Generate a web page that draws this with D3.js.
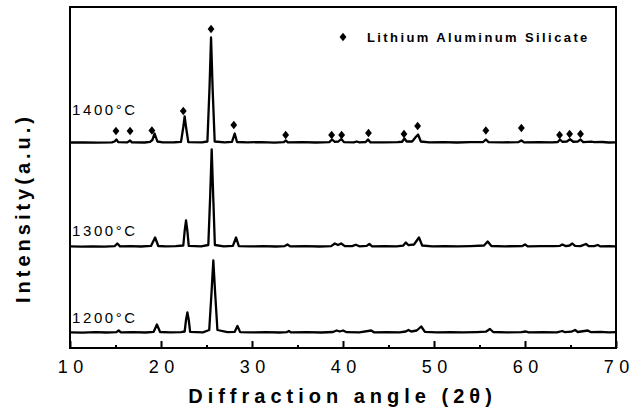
<!DOCTYPE html>
<html>
<head>
<meta charset="utf-8">
<script src="https://cdn.jsdelivr.net/npm/d3@7"></script>
<style>
  html, body { margin: 0; padding: 0; background: #fff; }
  svg { display: block; }
  text { font-family: "Liberation Sans", Arial, sans-serif; fill: #000; }
</style>
</head>
<body>
<svg id="chart" width="642" height="417"></svg>
<script>
// XRD patterns of the samples fired at three temperatures (intensity in counts)
const samples = ["1200\u00B0C", "1300\u00B0C", "1400\u00B0C"];
const offsets = [0, 1720, 3800];

const pattern1200 = [
  [10.0,312],[11.4,308],[12.8,316],[14.0,310],[15.1,316],[15.35,350],[15.6,312],[16.9,316],
  [18.3,310],[19.2,324],[19.55,470],[19.9,320],[21.0,314],[22.2,318],[22.6,330],[22.75,560],
  [22.9,710],[23.05,560],[23.2,324],[24.6,314],[25.3,360],[25.55,1100],[25.75,1750],[25.95,1100],
  [26.2,360],[27.3,316],[28.1,324],[28.4,440],[28.7,318],[30.0,312],[31.5,318],[33.0,310],
  [33.8,316],[34.05,340],[34.3,312],[36.0,316],[37.6,310],[38.9,320],[39.3,350],[39.65,330],
  [40.0,350],[40.4,316],[41.8,314],[43.1,350],[43.4,314],[44.8,316],[46.2,312],[46.9,330],
  [47.2,360],[47.5,330],[48.1,350],[48.6,430],[49.0,322],[50.3,314],[51.8,318],[53.2,312],
  [54.7,318],[55.7,326],[56.15,380],[56.5,320],[58.0,314],[59.6,316],[60.1,330],[60.4,312],
  [62.0,318],[63.5,314],[64.1,340],[64.4,316],[65.1,326],[65.5,360],[65.8,320],[66.9,350],
  [67.2,318],[68.3,322],[69.2,314],[70.0,316]
];

const pattern1300 = [
  [10.0,312],[11.2,306],[12.5,314],[13.8,308],[14.9,316],[15.2,370],[15.5,312],[16.6,318],
  [17.8,310],[18.9,322],[19.35,490],[19.7,320],[20.5,312],[21.6,316],[22.45,330],[22.6,620],
  [22.75,830],[22.9,620],[23.05,322],[24.4,312],[25.2,340],[25.4,1300],[25.57,2250],[25.74,1300],
  [25.92,340],[26.9,314],[27.9,322],[28.25,490],[28.55,318],[29.8,312],[31.2,316],[32.6,310],
  [33.6,318],[33.9,350],[34.2,312],[35.8,316],[37.4,310],[38.7,318],[39.1,370],[39.45,340],
  [39.8,370],[40.2,316],[41.0,318],[41.4,345],[41.8,314],[42.6,322],[42.9,360],[43.2,314],
  [44.6,316],[45.9,312],[46.6,326],[46.9,390],[47.2,336],[47.8,350],[48.35,490],[48.7,330],
  [49.8,314],[51.2,318],[52.6,312],[54.0,318],[55.5,330],[55.9,410],[56.3,320],[57.8,314],
  [59.7,318],[60.0,350],[60.3,312],[61.8,318],[63.2,316],[63.8,322],[64.1,350],[64.5,318],
  [64.9,330],[65.2,370],[65.5,322],[66.1,318],[66.7,360],[67.0,318],[67.6,316],[68.0,340],
  [68.3,312],[69.2,318],[70.0,314]
];

const pattern1400 = [
  [10.0,310],[11.5,314],[13.0,306],[14.6,312],[14.9,330],[15.1,370],[15.3,318],[16.3,312],
  [16.6,350],[16.8,312],[18.2,310],[18.8,322],[19.05,360],[19.3,490],[19.6,330],[20.2,312],
  [21.5,315],[22.2,322],[22.45,620],[22.6,830],[22.75,620],[23.0,318],[24.5,312],[25.1,330],
  [25.33,1400],[25.5,2410],[25.67,1400],[25.9,330],[27.0,314],[27.8,322],[28.1,490],[28.35,320],
  [29.5,312],[31.0,318],[32.5,308],[33.5,318],[33.7,350],[33.95,312],[35.5,316],[37.0,310],
  [38.5,318],[38.8,370],[39.1,322],[39.5,330],[39.8,380],[40.1,318],[41.2,312],[41.5,330],
  [41.8,312],[42.5,320],[42.75,370],[43.0,314],[44.5,312],[46.0,316],[46.5,325],[46.75,390],
  [47.0,330],[47.6,330],[48.0,420],[48.25,470],[48.55,330],[49.5,312],[51.0,318],[52.5,310],
  [54.0,316],[55.4,320],[55.7,370],[56.0,318],[57.5,312],[59.3,318],[59.6,350],[59.9,312],
  [61.5,316],[63.0,312],[63.6,320],[63.85,370],[64.1,325],[64.6,330],[64.95,375],[65.3,325],
  [65.8,328],[66.1,370],[66.4,318],[67.3,326],[67.6,316],[68.5,320],[69.2,310],[70.0,314]
];

const patterns = [pattern1200, pattern1300, pattern1400];

// Lithium aluminum silicate reflections marked on the 1400 °C pattern
const phaseAngles = [15.05, 16.6, 19.0, 22.45, 25.5, 28.0, 33.7, 38.75, 39.85, 42.8, 46.7, 48.2, 55.7, 59.6, 63.8, 64.9, 66.1];
const phaseLevels = [540, 540, 550, 940, 2580, 660, 460, 460, 460, 500, 480, 640, 550, 600, 460, 480, 480];

const majorTicks = [10, 20, 30, 40, 50, 60, 70];
const minorTicks = [15, 25, 35, 45, 55, 65];
const legendLabel = "Lithium Aluminum Silicate";
const xTitle = "Diffraction angle (2\u03B8)";
const yTitle = "Intensity(a.u.)";

const svg = d3.select("#chart");
const m = { left: 70, right: 616, top: 7, bottom: 348 };

const x = d3.scaleLinear().domain([10, 70]).range([m.left, m.right]);
const y = d3.scaleLinear().domain([0, 6820]).range([m.bottom, m.top]);

// patterns
const line = d3.line().x(d => x(d[0])).y(d => y(d[1]));
patterns.forEach((p, i) => {
  svg.append("path")
    .datum(p.map(d => [d[0], d[1] + offsets[i]]))
    .attr("d", line)
    .attr("fill", "none")
    .attr("stroke", "#000")
    .attr("stroke-width", 2.3)
    .attr("stroke-linejoin", "round");
});

// sample labels sit just above each pattern's background
const labelY = [323, 236, 115];
samples.forEach((s, i) => {
  svg.append("text")
    .attr("x", 72).attr("y", labelY[i])
    .attr("font-size", 15)
    .attr("letter-spacing", 2.6)
    .text(s);
});

// diamond marker
const diamond = {
  draw(ctx, size) {
    const h = Math.sqrt(size) * 0.62, w = h * 0.82;
    ctx.moveTo(0, -h); ctx.lineTo(w, 0); ctx.lineTo(0, h); ctx.lineTo(-w, 0); ctx.closePath();
  }
};
const sym = d3.symbol().type(diamond).size(45);

svg.append("g").selectAll("path")
  .data(phaseAngles.map((a, i) => [a, phaseLevels[i] + offsets[2]]))
  .join("path")
  .attr("transform", d => `translate(${x(d[0])},${y(d[1])})`)
  .attr("d", sym)
  .attr("fill", "#000");

// legend
svg.append("path").attr("transform", "translate(343,37)").attr("d", sym).attr("fill", "#000");
svg.append("text")
  .attr("x", 367).attr("y", 42)
  .attr("font-size", 13).attr("font-weight", "bold")
  .attr("letter-spacing", 2.4)
  .text(legendLabel);

// bottom axis: inward ticks
const axis = svg.append("g").attr("transform", `translate(0,${m.bottom})`)
  .call(d3.axisBottom(x).tickValues(majorTicks).tickSizeInner(-7).tickSizeOuter(0).tickPadding(12));
axis.select(".domain").remove();
axis.selectAll(".tick line").attr("stroke-width", 2);
axis.selectAll(".tick text")
  .attr("font-family", "Liberation Sans, Arial, sans-serif")
  .attr("font-size", 18)
  .attr("letter-spacing", 5.5)
  .attr("dx", 2.75)
  .attr("fill", "#000");

const minor = svg.append("g").attr("transform", `translate(0,${m.bottom})`)
  .call(d3.axisBottom(x).tickValues(minorTicks).tickSizeInner(-3).tickSizeOuter(0).tickFormat(""));
minor.select(".domain").remove();
minor.selectAll(".tick line").attr("stroke-width", 2);

// frame
svg.append("rect")
  .attr("x", m.left).attr("y", m.top)
  .attr("width", m.right - m.left).attr("height", m.bottom - m.top)
  .attr("fill", "none").attr("stroke", "#000").attr("stroke-width", 2);

// axis titles
svg.append("text")
  .attr("x", 340).attr("y", 403)
  .attr("text-anchor", "middle")
  .attr("font-size", 20).attr("font-weight", "bold")
  .attr("letter-spacing", 5).attr("dx", 2.5)
  .text(xTitle);

svg.append("text")
  .attr("transform", "translate(30,210) rotate(-90)")
  .attr("text-anchor", "middle")
  .attr("font-size", 20).attr("font-weight", "bold")
  .attr("letter-spacing", 4).attr("dx", 2)
  .text(yTitle);
</script>
</body>
</html>
